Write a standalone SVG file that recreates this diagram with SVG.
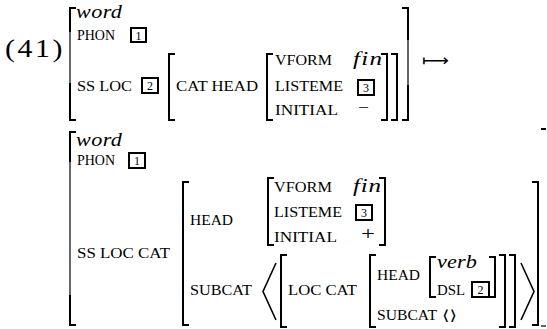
<svg xmlns="http://www.w3.org/2000/svg" width="547" height="329" viewBox="0 0 547 329">
  <style>
    .sc { font-family: "Liberation Serif", "DejaVu Serif", serif; font-size: 14.5px; fill: #000; }
    .it { font-family: "Liberation Serif", "DejaVu Serif", serif; font-style: italic; font-size: 18.5px; fill: #000; }
    .rm { font-family: "Liberation Serif", "DejaVu Serif", serif; fill: #000; }
    .sym { font-family: "DejaVu Sans", sans-serif; fill: #000; }
    .br { fill: none; stroke: #000; stroke-width: 2; stroke-linecap: butt; }
    .ext { fill: none; stroke: #000; stroke-width: 1.2; }
    .ang { fill: none; stroke: #000; stroke-width: 1.6; stroke-linejoin: miter; }
    .tag { fill: #fff; stroke: #000; stroke-width: 2; }
    .tagn { font-family: "Liberation Serif", "DejaVu Serif", serif; font-size: 12px; text-anchor: middle; fill: #000; }
  </style>

  <!-- example number -->
  <text class="rm" transform="translate(5,57) scale(1.15,1)" font-size="26" textLength="50" lengthAdjust="spacing">(41)</text>

  <!-- left-hand structure -->
  <g id="avm-lhs">
    <path class="br" d="M76,8 H70 V32"/>
    <path class="ext" d="M70,32 V83"/>
    <path class="br" d="M70,83 V120 H76"/>
    <text class="it" transform="translate(76,18) scale(1.2,1)" textLength="38.3" lengthAdjust="spacing">word</text>
    <text class="sc" x="77" y="40" textLength="38" lengthAdjust="spacingAndGlyphs">PHON</text>
    <g id="tag-1a">
      <rect class="tag" x="131" y="28" width="15" height="14"/>
      <text class="tagn" x="138.5" y="39.5">1</text>
    </g>
    <text class="sc" x="77" y="91" textLength="55" lengthAdjust="spacingAndGlyphs">SS LOC</text>
    <g id="tag-2a">
      <rect class="tag" x="142" y="78" width="16" height="15"/>
      <text class="tagn" x="150" y="90">2</text>
    </g>
    <path class="br" d="M175,54 H169 V120 H175"/>
    <text class="sc" x="176" y="91" textLength="82" lengthAdjust="spacingAndGlyphs">CAT HEAD</text>
    <path class="br" d="M273,54 H267 V120 H273"/>
    <text class="sc" x="275" y="65" textLength="57" lengthAdjust="spacingAndGlyphs">VFORM</text>
    <text class="it" transform="translate(353,65) scale(1.35,1)" font-size="19" textLength="21.5" lengthAdjust="spacing">fin</text>
    <text class="sc" x="275" y="91" textLength="68" lengthAdjust="spacingAndGlyphs">LISTEME</text>
    <g id="tag-3a">
      <rect class="tag" x="358" y="80" width="16" height="15"/>
      <text class="tagn" x="366" y="92">3</text>
    </g>
    <text class="sc" x="275" y="115" textLength="63" lengthAdjust="spacingAndGlyphs">INITIAL</text>
    <text class="rm" x="358" y="113" font-size="16" fill="#666" textLength="11" lengthAdjust="spacingAndGlyphs">−</text>
    <path class="br" d="M381,54 H387 V120 H381"/>
    <path class="br" d="M391,54 H397 V120 H391"/>
    <path class="br" d="M402,8 H408 V40"/>
    <path class="ext" d="M408,40 V85"/>
    <path class="br" d="M408,85 V120 H402"/>
  </g>

  <!-- mapping arrow -->
  <text class="sym" x="422" y="66" font-size="16" fill="#222" textLength="27" lengthAdjust="spacingAndGlyphs">⟼</text>

  <!-- right-hand structure -->
  <g id="avm-rhs">
    <path class="br" d="M76,132 H70 V162"/>
    <path class="ext" d="M70,162 V295"/>
    <path class="br" d="M70,295 V325 H76"/>
    <text class="it" transform="translate(76,146) scale(1.2,1)" textLength="38.3" lengthAdjust="spacing">word</text>
    <text class="sc" x="77" y="165" textLength="38" lengthAdjust="spacingAndGlyphs">PHON</text>
    <g id="tag-1b">
      <rect class="tag" x="129" y="153" width="16" height="15"/>
      <text class="tagn" x="137" y="165">1</text>
    </g>
    <text class="sc" x="77" y="258" textLength="93" lengthAdjust="spacingAndGlyphs">SS LOC CAT</text>
    <path class="br" d="M189,182 H183 V325 H189"/>
    <text class="sc" x="190" y="225" textLength="43" lengthAdjust="spacingAndGlyphs">HEAD</text>
    <path class="br" d="M274,178 H268 V245 H274"/>
    <text class="sc" x="274" y="192" textLength="58" lengthAdjust="spacingAndGlyphs">VFORM</text>
    <text class="it" transform="translate(353,192) scale(1.35,1)" font-size="19" textLength="20.7" lengthAdjust="spacing">fin</text>
    <text class="sc" x="274" y="217" textLength="68" lengthAdjust="spacingAndGlyphs">LISTEME</text>
    <g id="tag-3b">
      <rect class="tag" x="356" y="205" width="16" height="15"/>
      <text class="tagn" x="364" y="217">3</text>
    </g>
    <text class="sc" x="274" y="242" textLength="63" lengthAdjust="spacingAndGlyphs">INITIAL</text>
    <text class="rm" x="361" y="240" font-size="19" textLength="14" lengthAdjust="spacingAndGlyphs">+</text>
    <path class="br" d="M379,178 H385 V245 H379"/>

    <text class="sc" x="190" y="295" textLength="62" lengthAdjust="spacingAndGlyphs">SUBCAT</text>
    <polyline class="ang" points="276,263 263,291.5 276,320"/>
    <path class="br" d="M287,255 H281 V327 H287"/>
    <text class="sc" x="288" y="295" textLength="69" lengthAdjust="spacingAndGlyphs">LOC CAT</text>
    <path class="br" d="M376,255 H370 V327 H376"/>
    <text class="sc" x="377" y="280" textLength="43" lengthAdjust="spacingAndGlyphs">HEAD</text>
    <path class="br" d="M436,257 H430 V297 H436"/>
    <text class="it" transform="translate(437,268) scale(1.2,1)" textLength="33.3" lengthAdjust="spacing">verb</text>
    <text class="sc" x="437" y="295" textLength="28" lengthAdjust="spacingAndGlyphs">DSL</text>
    <g id="tag-2b">
      <rect class="tag" x="472" y="282" width="17" height="15"/>
      <text class="tagn" x="480.5" y="294">2</text>
    </g>
    <path class="br" d="M489,257 H495 V297 H489"/>
    <text class="sc" x="377" y="320" textLength="60" lengthAdjust="spacingAndGlyphs">SUBCAT</text>
    <text class="sym" x="442" y="320" font-size="14" textLength="15" lengthAdjust="spacingAndGlyphs">⟨⟩</text>
    <path class="br" d="M499,255 H505 V327 H499"/>
    <path class="br" d="M509,255 H515 V327 H509"/>
    <polyline class="ang" points="521,263 534,291.5 521,320"/>
    <path class="br" d="M532,182 H538 V325 H532"/>
    <path class="br" d="M541,129 H546"/>
    <path class="ext" d="M541,326 H546"/>
  </g>
</svg>
